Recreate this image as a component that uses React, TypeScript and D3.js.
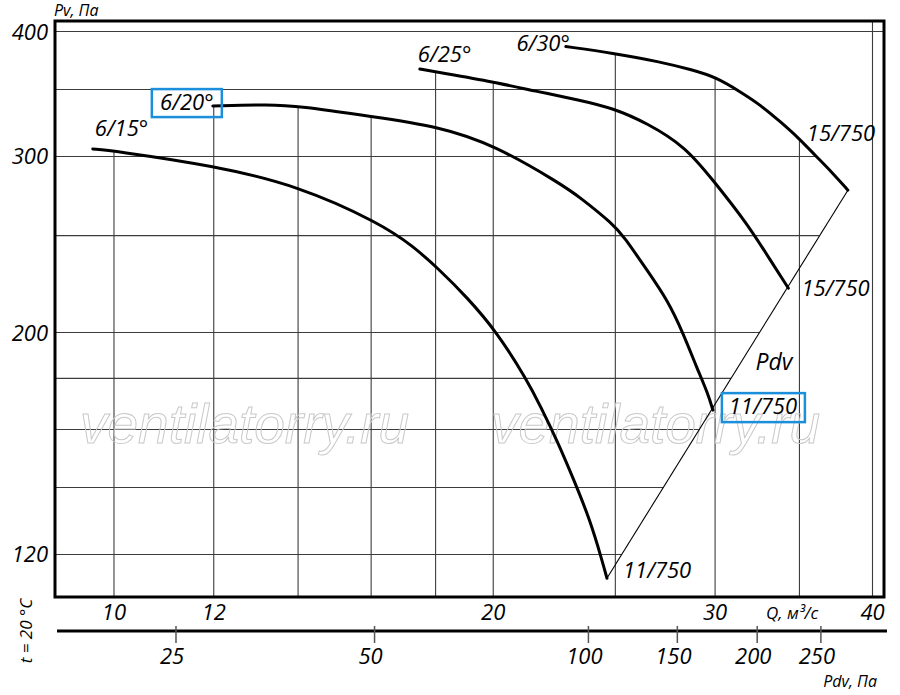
import * as d3 from "d3";

// ---------------------------------------------------------------------------
// Data
// ---------------------------------------------------------------------------

const Q_GRID = [10, 12, 14, 16, 18, 20, 25, 30, 35, 40];
const Q_TICKS = [10, 12, 20, 30, 40];
const P_GRID = [120, 140, 160, 180, 200, 250, 300, 350, 400];
const P_TICKS = [120, 200, 300, 400];

// second (dynamic pressure) axis: tick labels and the Q they sit at
const PDV_TICKS = [25, 50, 100, 150, 200, 250];
const PDV_TICK_Q = [11.2, 16.1, 23.8, 28.0, 32.4, 36.4];

const CURVE_NAMES = ["6/15°", "6/20°", "6/25°", "6/30°"];
const END_NAMES = ["11/750", "11/750", "15/750", "15/750"];
const BOXED_START = [1];
const BOXED_END = [1];

const Q_615 = [9.62, 9.98, 12.0, 14.0, 16.26, 17.27, 18.07, 19.06, 20.14, 21.27, 21.82, 22.47, 23.18, 23.87, 24.4, 24.62];
const P_615 = [305.2, 304.0, 293.7, 280.5, 257.3, 244.1, 232.0, 217.0, 200.2, 179.3, 168.5, 156.1, 142.4, 129.9, 118.4, 113.6];

const Q_620 = [11.98, 13.32, 14.0, 16.04, 18.06, 20.06, 22.6, 23.43, 24.89, 25.4, 26.49, 27.5, 28.3, 29.0, 29.6, 29.88];
const P_620 = [336.9, 338.2, 336.9, 328.7, 321.7, 307.9, 281.9, 273.2, 256.8, 249.4, 230.9, 215.6, 199.7, 184.7, 174.0, 167.3];

const Q_625 = [17.49, 18.05, 20.06, 21.59, 23.43, 24.89, 26.49, 28.44, 29.88, 31.8, 33.3, 34.3];
const P_625 = [366.9, 364.3, 356.0, 348.7, 341.6, 335.3, 324.0, 306.6, 284.1, 257.3, 234.7, 221.5];

const Q_630 = [22.84, 24.89, 27.1, 28.8, 30.05, 31.4, 32.6, 33.8, 34.97, 36.0, 37.2, 38.24];
const P_630 = [386.4, 380.6, 373.2, 366.1, 360.0, 348.3, 337.7, 325.0, 312.8, 301.0, 288.7, 277.6];

const CURVES_Q = [Q_615, Q_620, Q_625, Q_630];
const CURVES_P = [P_615, P_620, P_625, P_630];

const WATERMARK = "ventilatorry.ru";

// ---------------------------------------------------------------------------
// Layout / style
// ---------------------------------------------------------------------------

const W = 900;
const H = 695;
const PLOT = { left: 55, top: 21, right: 884, bottom: 597 };
const FONT = "'Open Sans', 'Noto Sans', sans-serif";
const INK = "#000";
const GRID = "#3c3c3c";
const BOX = "#1b8fdb";
const LABEL_SIZE = 22;

// label offsets (px) relative to curve start / end points
const START_OFF = [
  { dx: 2, dy: -13, anchor: "start" },
  { dx: -26, dy: 4, anchor: "middle" },
  { dx: -2, dy: -7, anchor: "start" },
  { dx: 4, dy: 4, anchor: "end" },
];
const END_OFF = [
  { dx: 16, dy: 0, anchor: "start" },
  { dx: 50, dy: 4, anchor: "middle" },
  { dx: 13, dy: 8, anchor: "start" },
  { dx: -41, dy: -49, anchor: "start" },
];

const xScale = d3.scaleLog().domain([8.978, 40.85]).range([PLOT.left, PLOT.right]);
const yScale = d3.scaleLog().domain([108.8, 409.8]).range([PLOT.bottom, PLOT.top]);

type Pt = [number, number];

const curvesPx: Pt[][] = CURVES_Q.map((qs, i) =>
  qs.map((q, j) => [xScale(q), yScale(CURVES_P[i][j])] as Pt),
);

// Pdv line joins the curve end points
const pdvLine: Pt[] = [
  curvesPx[0][curvesPx[0].length - 1],
  curvesPx[curvesPx.length - 1][curvesPx[curvesPx.length - 1].length - 1],
];

function yAtX(pts: Pt[], x: number): number | null {
  for (let i = 0; i < pts.length - 1; i++) {
    const [x0, y0] = pts[i];
    const [x1, y1] = pts[i + 1];
    if (x >= x0 && x <= x1) return y0 + ((x - x0) / (x1 - x0 || 1)) * (y1 - y0);
  }
  return null;
}

function xsAtY(pts: Pt[], y: number): number[] {
  const out: number[] = [];
  for (let i = 0; i < pts.length - 1; i++) {
    const [x0, y0] = pts[i];
    const [x1, y1] = pts[i + 1];
    if ((y - y0) * (y - y1) <= 0 && y0 !== y1) out.push(x0 + ((y - y0) / (y1 - y0)) * (x1 - x0));
  }
  return out;
}

// B-spline smooths the hand-read points, ends stay pinned
const lineGen = d3
  .line<Pt>()
  .x((d) => d[0])
  .y((d) => d[1])
  .curve(d3.curveBasis);

export default function App() {
  const vGrid = Q_GRID.map((q) => {
    const x = xScale(q);
    const hits = curvesPx.map((c) => yAtX(c, x)).filter((v): v is number => v !== null);
    return { q, x, y1: hits.length ? Math.min(...hits) : PLOT.top };
  });

  const hGrid = P_GRID.map((p) => {
    const y = yScale(p);
    const hits = [...curvesPx, pdvLine].flatMap((c) => xsAtY(c, y));
    return { p, y, x2: hits.length ? Math.max(...hits) : PLOT.right };
  });

  const axis2Y = 631;
  const pdvMid: Pt = [(pdvLine[0][0] + pdvLine[1][0]) / 2, (pdvLine[0][1] + pdvLine[1][1]) / 2];

  return (
    <div style={{ position: "absolute", left: 0, top: 0 }}>
      <svg width={W} height={H} style={{ display: "block", background: "#fff" }} fontFamily={FONT}>
        {/* grid */}
        {vGrid.map((g) => (
          <line key={`v${g.q}`} x1={g.x} x2={g.x} y1={g.y1} y2={PLOT.bottom} stroke={GRID} strokeWidth={1.1} />
        ))}
        {hGrid.map((g) => (
          <line key={`h${g.p}`} x1={PLOT.left} x2={g.x2} y1={g.y} y2={g.y} stroke={GRID} strokeWidth={1.1} />
        ))}

        {/* watermark */}
        {[80, 491].map((x) => (
          <text
            key={x}
            x={x}
            y={443}
            fontFamily="'Liberation Sans', Arial, sans-serif"
            fontStyle="italic"
            fontSize={55}
            fill="none"
            stroke="#c9c9c9"
            strokeWidth={1}
          >
            {WATERMARK}
          </text>
        ))}

        {/* Pdv line */}
        <line
          x1={pdvLine[0][0]}
          y1={pdvLine[0][1]}
          x2={pdvLine[1][0]}
          y2={pdvLine[1][1]}
          stroke={INK}
          strokeWidth={1.1}
        />

        {/* curves */}
        {curvesPx.map((c, i) => (
          <path key={i} d={lineGen(c) ?? ""} fill="none" stroke={INK} strokeWidth={3} strokeLinecap="round" />
        ))}

        {/* curve start labels */}
        {curvesPx.map((c, i) => {
          const [sx, sy] = c[0];
          const o = START_OFF[i];
          return (
            <g key={`s${i}`}>
              {BOXED_START.includes(i) && (
                <rect x={sx + o.dx - 35} y={sy + o.dy - 21} width={70} height={28} fill="none" stroke={BOX} strokeWidth={2.5} />
              )}
              <text x={sx + o.dx} y={sy + o.dy} fontSize={LABEL_SIZE} fontStyle="italic" textAnchor={o.anchor} fill={INK}>
                {CURVE_NAMES[i]}
              </text>
            </g>
          );
        })}

        {/* curve end labels */}
        {curvesPx.map((c, i) => {
          const [ex, ey] = c[c.length - 1];
          const o = END_OFF[i];
          return (
            <g key={`e${i}`}>
              {BOXED_END.includes(i) && (
                <rect x={ex + o.dx - 41} y={ey + o.dy - 21} width={83} height={29} fill="none" stroke={BOX} strokeWidth={2.5} />
              )}
              <text x={ex + o.dx} y={ey + o.dy} fontSize={LABEL_SIZE} fontStyle="italic" textAnchor={o.anchor} fill={INK}>
                {END_NAMES[i]}
              </text>
            </g>
          );
        })}

        <text x={pdvMid[0] + 28} y={pdvMid[1] - 14} fontSize={23} fontStyle="italic" fill={INK}>
          Pdv
        </text>

        {/* frame */}
        <rect
          x={PLOT.left}
          y={PLOT.top}
          width={PLOT.right - PLOT.left}
          height={PLOT.bottom - PLOT.top}
          fill="none"
          stroke={INK}
          strokeWidth={3}
        />

        {/* Y axis */}
        <text x={54} y={16} fontSize={16} fontStyle="italic" fill={INK}>
          Pv, Па
        </text>
        {P_TICKS.map((p) => (
          <text key={p} x={48} y={yScale(p) + 8} fontSize={22} fontStyle="italic" textAnchor="end" fill={INK}>
            {p}
          </text>
        ))}

        {/* Q axis */}
        {Q_TICKS.map((q) => (
          <text key={q} x={xScale(q)} y={620} fontSize={22} fontStyle="italic" textAnchor="middle" fill={INK}>
            {q}
          </text>
        ))}
        <text x={766} y={619} fontSize={17} fontStyle="italic" fill={INK}>
          Q, м³/с
        </text>

        {/* Pdv axis */}
        <line x1={PLOT.left + 2} x2={PLOT.right + 3} y1={axis2Y} y2={axis2Y} stroke={INK} strokeWidth={3} />
        {PDV_TICKS.map((v, i) => {
          const x = xScale(PDV_TICK_Q[i]);
          return (
            <g key={v}>
              <line x1={x} x2={x} y1={axis2Y - 5} y2={axis2Y + 12} stroke="#555" strokeWidth={1.5} />
              <text x={x - 4} y={664} fontSize={22} fontStyle="italic" textAnchor="middle" fill={INK}>
                {v}
              </text>
            </g>
          );
        })}
        <text x={877} y={687} fontSize={16} fontStyle="italic" textAnchor="end" fill={INK}>
          Pdv, Па
        </text>

        <text
          transform="translate(32,631) rotate(-90)"
          fontSize={17}
          fontStyle="italic"
          textAnchor="middle"
          fill={INK}
        >
          t = 20 °C
        </text>
      </svg>
    </div>
  );
}
